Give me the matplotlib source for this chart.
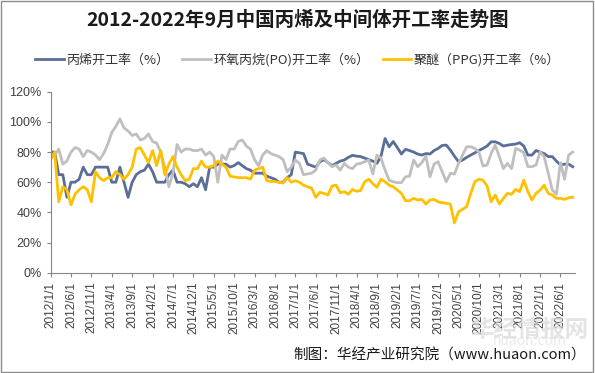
"""
2012-2022 propylene / PO / PPG operating rates
"""
import matplotlib
matplotlib.use("Agg")
import matplotlib.pyplot as plt
import pandas as pd
from matplotlib.patches import Rectangle

plt.rcParams['font.family'] = ['Noto Sans CJK SC', 'DejaVu Sans']

#months 2012/1 .. 2022/9
months = pd.date_range('2012-01-01', '2022-09-01', freq='MS')
tick_labels = ['%d/%d/1' % (m.year, m.month) for m in months[::5]]

propylene = [80, 80, 65, 65, 50, 60, 60, 62, 70, 65, 65, 70, 70, 70, 70, 60,
             60, 70, 60, 50, 60, 65, 67, 68, 72, 67, 60, 60, 60, 65, 68, 60,
             60, 59, 57, 59, 57, 63, 55, 70, 70, 72, 72, 72, 70, 71, 73, 71,
             69, 68, 66, 66, 66, 64, 63, 62, 60, 60, 63, 65, 80, 79.5, 79, 72,
             71, 70, 73.5, 75, 73, 71, 72.5, 74, 74.7, 76.5, 77.8, 77.3, 77, 76, 75, 74,
             72.5, 77.3, 89, 83.5, 87, 83, 78.7, 81.8, 81, 80, 78.7, 78, 79, 78.7, 81, 82.4,
             84.4, 84.6, 81.3, 77.3, 73.6, 74.7, 76.5, 78, 79.5, 81, 82.4, 84, 86.8, 86.8, 85.7, 84,
             84.6, 85, 85.3, 86.2, 84, 78, 78, 81, 80, 79, 77, 77, 74, 71.4, 72, 72,
             70.3]
po = [76, 78, 82, 72, 74, 80, 83, 82, 77, 81, 80, 78, 75, 79, 85, 93,
      97, 102, 96, 94, 91, 92, 88, 89, 92, 87, 86, 80, 70, 57, 66, 85,
      80, 82, 82, 81, 81, 82, 78, 80, 77, 60, 78, 75, 82, 82, 87, 88,
      84, 82, 75, 71, 78, 81, 79, 78, 77, 75, 67, 70, 74.7, 72.5, 65, 65.5,
      66, 68, 74.7, 76, 73, 70.3, 71.4, 68, 72.5, 70, 69, 72, 72.5, 73.6, 74.7, 65.5,
      78, 76, 68, 61.4, 60.3, 59.7, 59.7, 63.6, 64, 74.7, 70.3, 73, 77.3, 63.6, 72, 73.6,
      67, 60.3, 65.9, 65.4, 72.5, 78, 83.5, 83.5, 82.4, 80, 70.7, 71.4, 79, 84.6, 77, 69,
      72.5, 69, 82.4, 81.3, 79.5, 70.3, 70.3, 71.4, 80, 77, 65.9, 54.8, 52, 73, 62, 78,
      80]
ppg = [75, 80, 47, 57, 55, 45, 52, 55, 57, 55, 47, 67, 63, 61, 63, 63,
       67, 65, 62, 65, 70, 82, 83, 78, 73, 81, 71, 81, 65, 72, 77, 70,
       65, 61, 62, 69, 69, 74, 70, 70, 71, 74, 72, 70, 64, 63.5, 63, 63,
       63, 62, 68, 69, 70, 61, 60.5, 60.5, 60, 59.5, 63, 60, 61, 60, 58, 57,
       56, 50, 53.3, 52.6, 51.5, 57.5, 58, 53, 53.7, 52, 55.2, 54, 54.4, 60.3, 62, 59,
       56.6, 62, 60.3, 58, 57, 54.8, 52.6, 47.7, 47.7, 49.3, 48.2, 48.6, 45.5, 48.2, 48.6, 47,
       46.4, 46, 45.5, 33, 40.4, 42, 43.8, 52.6, 60.3, 62, 61.4, 57.5, 47, 51.5, 45.5, 49.3,
       52.6, 52, 55.2, 53.7, 61.4, 53.7, 48.2, 52.6, 54.8, 58, 52.6, 51.5, 49.3, 49.3, 48.6, 49.7,
       50]

names = ['丙烯开工率（%）', '环氧丙烷(PO)开工率（%）', '聚醚（PPG)开工率（%）']
colors = ['#5B6E99', '#BFBFBF', '#FFC000']


def make_chart():
    fig = plt.figure(figsize=(5.95, 3.73), dpi=100)
    ax = fig.add_axes([0.085, 0.269, 0.881, 0.485])
    x = range(len(months))
    ax.plot(x, propylene, color=colors[0], lw=2.0, label=names[0])
    ax.plot(x, po, color=colors[1], lw=2.0, label=names[1])
    ax.plot(x, ppg, color=colors[2], lw=2.0, label=names[2])

    ax.set_ylim(0, 120)
    ax.set_yticks(range(0, 121, 20))
    ax.set_yticklabels(['%d%%' % v for v in range(0, 121, 20)], fontsize=9,
                       family=['Liberation Sans', 'DejaVu Sans'])
    ax.set_xlim(0, len(months) - 0.5)
    ax.set_xticks(list(range(0, len(months), 5)))
    ax.set_xticklabels(tick_labels, rotation=90, fontsize=8.5,
                       family=['Liberation Sans', 'DejaVu Sans'])
    for s in ['top', 'right']:
        ax.spines[s].set_visible(False)
    for s in ['left', 'bottom']:
        ax.spines[s].set_color('#868686')
        ax.spines[s].set_linewidth(0.8)
    ax.tick_params(axis='both', colors='#868686', length=3, width=0.8,
                   labelcolor='#404040')

    fig.text(0.5, 0.945, '2012-2022年9月中国丙烯及中间体开工率走势图',
             ha='center', va='center', fontsize=14, fontweight='bold',
             color='#1a1a1a')
    fig.legend(loc='center', bbox_to_anchor=(0.5, 0.84), ncol=3, frameon=False,
               fontsize=9.4, handlelength=2.2, handletextpad=0.2, columnspacing=1.0,
               labelcolor='#333333')

    #watermark
    fig.text(0.89, 0.115, '华经情报网', ha='center', va='center', fontsize=17,
             fontweight='bold', color='#d9d9d9', alpha=0.7, zorder=0)
    fig.text(0.89, 0.085, 'huaon.com', ha='center', va='center', fontsize=10,
             color='#e0e0e0', alpha=0.7, zorder=0)

    fig.text(0.985, 0.048, '制图：华经产业研究院（www.huaon.com）', ha='right',
             va='center', fontsize=10.5, color='#1a1a1a')

    fig.patches.append(Rectangle((0.002, 0.003), 0.995, 0.993,
                                 transform=fig.transFigure, fill=False,
                                 edgecolor='#8c8c8c', lw=1.0))
    fig.savefig('out.png', dpi=100)


def main():
    make_chart()

if __name__ == "__main__":
    main()
